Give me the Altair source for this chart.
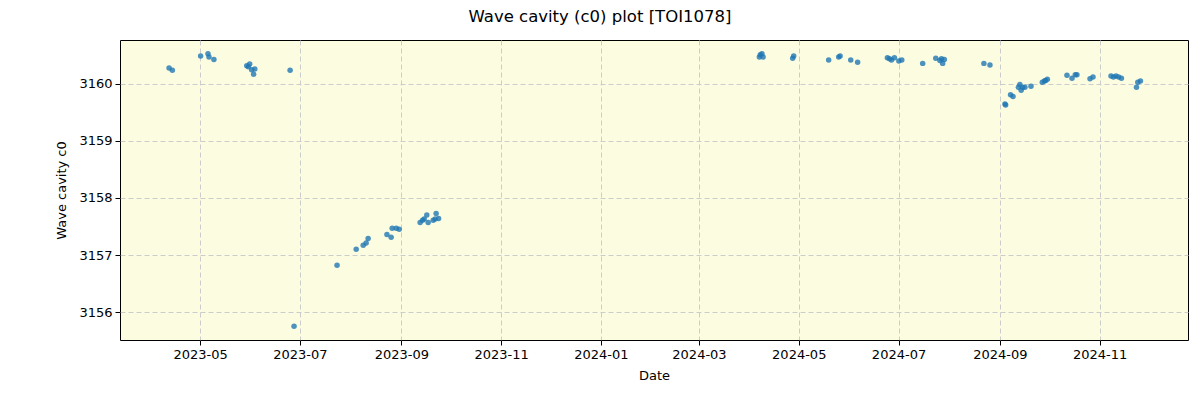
import altair as alt
import pandas as pd

dates = [
    "2023-04-12T00:00", "2023-04-14T00:00", "2023-05-01T07:00", "2023-05-05T19:00",
    "2023-05-06T10:00", "2023-05-09T10:00", "2023-05-29T12:00", "2023-05-30T12:00",
    "2023-05-31T07:00", "2023-06-01T12:00", "2023-06-02T17:00", "2023-06-03T10:00",
    "2023-06-25T00:00", "2023-06-27T10:00", "2023-07-23T17:00", "2023-08-04T10:00",
    "2023-08-08T17:00", "2023-08-10T12:00", "2023-08-11T17:00", "2023-08-23T05:00",
    "2023-08-25T19:00", "2023-08-26T10:00", "2023-08-28T22:00", "2023-08-30T17:00",
    "2023-09-12T12:00", "2023-09-14T00:00", "2023-09-15T00:00", "2023-09-16T14:00",
    "2023-09-17T10:00", "2023-09-20T12:00", "2023-09-21T17:00", "2023-09-22T07:00",
    "2023-09-23T19:00",
    "2024-04-06T22:00", "2024-04-07T12:00", "2024-04-08T12:00", "2024-04-09T05:00",
    "2024-04-27T07:00", "2024-04-27T22:00", "2024-05-19T07:00", "2024-05-25T10:00",
    "2024-05-26T07:00", "2024-06-01T19:00", "2024-06-06T00:00", "2024-06-24T05:00",
    "2024-06-25T12:00", "2024-06-26T17:00", "2024-06-28T12:00", "2024-07-01T05:00",
    "2024-07-03T00:00", "2024-07-15T19:00", "2024-07-23T19:00", "2024-07-26T07:00",
    "2024-07-27T07:00", "2024-07-28T00:00", "2024-07-29T00:00", "2024-08-22T05:00",
    "2024-08-25T22:00", "2024-09-04T02:00", "2024-09-04T12:00", "2024-09-07T12:00",
    "2024-09-09T00:00", "2024-09-12T07:00", "2024-09-13T05:00", "2024-09-14T00:00",
    "2024-09-14T22:00", "2024-09-16T07:00", "2024-09-20T00:00", "2024-09-26T22:00",
    "2024-09-28T05:00", "2024-09-29T00:00", "2024-09-30T00:00", "2024-10-12T00:00",
    "2024-10-15T02:00", "2024-10-17T02:00", "2024-10-18T02:00", "2024-10-26T02:00",
    "2024-10-27T22:00", "2024-11-07T22:00", "2024-11-09T10:00", "2024-11-11T00:00",
    "2024-11-12T14:00", "2024-11-14T07:00", "2024-11-23T12:00", "2024-11-24T07:00",
    "2024-11-25T22:00",
]

c0 = [
    3160.28, 3160.24, 3160.49, 3160.53,
    3160.47, 3160.43, 3160.32, 3160.30,
    3160.35, 3160.25, 3160.17, 3160.26,
    3160.24, 3155.75, 3156.82, 3157.10,
    3157.17, 3157.21, 3157.29, 3157.36,
    3157.31, 3157.47, 3157.47, 3157.45,
    3157.57, 3157.61, 3157.63, 3157.70,
    3157.57, 3157.61, 3157.63, 3157.73,
    3157.64,
    3160.47, 3160.51, 3160.53, 3160.47,
    3160.45, 3160.49, 3160.42, 3160.47,
    3160.49, 3160.42, 3160.38, 3160.46,
    3160.44, 3160.42, 3160.46, 3160.40,
    3160.42, 3160.36, 3160.45, 3160.41,
    3160.44, 3160.36, 3160.43, 3160.36,
    3160.33, 3159.65, 3159.63, 3159.81,
    3159.78, 3159.94, 3159.99, 3159.89,
    3159.94, 3159.94, 3159.96, 3160.03,
    3160.05, 3160.06, 3160.08, 3160.15,
    3160.10, 3160.16, 3160.16, 3160.09,
    3160.12, 3160.14, 3160.12, 3160.14,
    3160.12, 3160.10, 3159.94, 3160.03,
    3160.05,
]

x_ticks = ["2023-05-01", "2023-07-01", "2023-09-01", "2023-11-01", "2024-01-01",
           "2024-03-01", "2024-05-01", "2024-07-01", "2024-09-01", "2024-11-01"]
y_ticks = [3156, 3157, 3158, 3159, 3160]
y_domain = [3155.51, 3160.77]

df = pd.DataFrame({"date": pd.to_datetime(dates), "c0": c0})

font = "DejaVu Sans"

chart = alt.Chart(df).mark_circle(size=30, opacity=0.8, color="#1f77b4").encode(
    x=alt.X("date:T", title="Date",
            scale=alt.Scale(domain=[alt.DateTime(year=2023, month=3, date=13),
                                    alt.DateTime(year=2024, month=12, date=25)], nice=False),
            axis=alt.Axis(values=[alt.DateTime(year=int(t[:4]), month=int(t[5:7]), date=1) for t in x_ticks],
                          format="%Y-%m", labelAngle=0)),
    y=alt.Y("c0:Q", title="Wave cavity c0",
            scale=alt.Scale(domain=y_domain, nice=False, zero=False),
            axis=alt.Axis(values=y_ticks, format="d")),
).properties(
    width=1068, height=300,
    title=alt.TitleParams("Wave cavity (c0) plot [TOI1078]", anchor="middle", dx=-54,
                          offset=15, fontSize=16.5, font=font, fontWeight="normal", color="black"),
    padding={"left": 120, "top": 40, "right": 12, "bottom": 60},
    autosize=alt.AutoSizeParams(type="none"),
).configure_view(
    fill="#fcfce1", stroke="black", strokeWidth=1,
).configure_axis(
    labelFont=font, titleFont=font, labelFontSize=13, titleFontSize=13,
    labelColor="black", titleColor="black", titleFontWeight="normal",
    tickColor="black", tickSize=5, domain=False,
    grid=True, gridColor="#cccccc", gridDash=[5, 3], gridWidth=1,
    labelPadding=3,
).configure_axisX(
    titlePadding=8,
).configure_axisY(
    titlePadding=10,
)

chart.save("out.html", embed_options={"renderer": "svg", "actions": False})
